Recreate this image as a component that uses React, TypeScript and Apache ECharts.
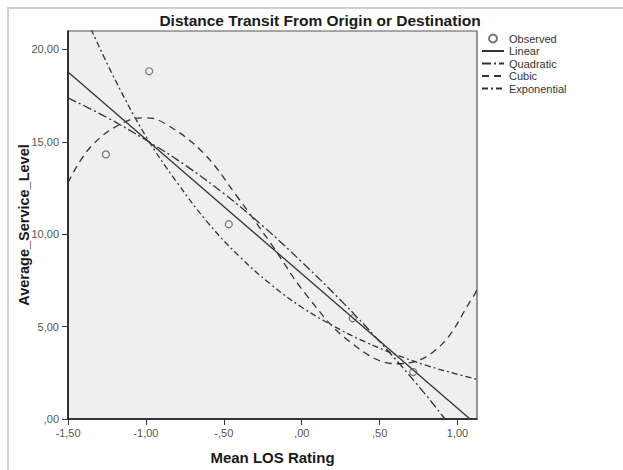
import React, { useEffect, useRef } from "react";
import * as echarts from "echarts";

const titleText = "Distance Transit From Origin or Destination";
const xAxisName = "Mean LOS Rating";
const yAxisName = "Average_Service_Level";

const xTickValues = [-1.5, -1, -0.5, 0, 0.5, 1];
const xTickLabels = ["-1,50", "-1,00", "-,50", ",00", ",50", "1,00"];
const yTickValues = [0, 5, 10, 15, 20];
const yTickLabels = [",00", "5,00", "10,00", "15,00", "20,00"];

const legendNames = ["Observed", "Linear", "Quadratic", "Cubic", "Exponential"];

const observedX = [-1.257, -0.979, -0.468, 0.328, 0.716];
const observedY = [14.32, 18.82, 10.54, 5.45, 2.54];

const linearX = [-1.5, 1.08];
const linearY = [18.78, 0];

const quadraticX = [-1.5, -1.25, -1.0, -0.75, -0.5, -0.25, 0, 0.25, 0.5, 0.75, 0.92];
const quadraticY = [17.38, 16.32, 15.1, 13.75, 12.2, 10.45, 8.5, 6.43, 4.19, 1.78, 0];

const cubicX = [-1.5, -1.35, -1.124, -0.996, -0.867, -0.632, -0.417, -0.2, 0.033, 0.312, 0.612, 0.869, 1.105, 1.125];
const cubicY = [12.79, 14.77, 16.12, 16.3, 15.94, 14.41, 12.07, 9.52, 6.68, 4.16, 2.99, 3.8, 6.68, 7.0];

const exponentialX = [-1.352, -1.2, -1.0, -0.8, -0.6, -0.4, -0.2, 0, 0.2, 0.4, 0.6, 0.8, 1.0, 1.125];
const exponentialY = [21.1, 18.4, 15.3, 12.8, 10.6, 8.8, 7.3, 6.05, 5.05, 4.2, 3.5, 2.9, 2.42, 2.15];

const pairs = (xs: number[], ys: number[]) => xs.map((x, i) => [x, ys[i]]);

const FONT = "'Liberation Sans', Arial, sans-serif";
const LINE_COLOR = "#333333";

export default function App() {
  const ref = useRef<HTMLDivElement>(null);

  useEffect(() => {
    if (!ref.current) return;
    const chart = echarts.init(ref.current, undefined, { renderer: "svg" });

    const lineSeries = (name: string, xs: number[], ys: number[], type: any, smooth: any) => ({
      name,
      type: "line",
      data: pairs(xs, ys),
      symbol: "none",
      smooth,
      clip: true,
      silent: true,
      lineStyle: { color: LINE_COLOR, width: 1.3, type },
      itemStyle: { color: LINE_COLOR },
      emphasis: { disabled: true },
      z: 3,
    });

    chart.setOption({
      animation: false,
      backgroundColor: "#ffffff",
      textStyle: { fontFamily: FONT },
      title: {
        text: titleText,
        left: 320,
        textAlign: "center",
        top: 12,
        padding: 0,
        textStyle: { fontFamily: FONT, fontWeight: "bold", fontSize: 15.5, color: "#1a1a1a" },
      },
      graphic: [
        {
          type: "rect",
          silent: true,
          z: -10,
          shape: { x: 8, y: 8, width: 700, height: 600 },
          style: { fill: "none", stroke: "#cfcfcf", lineWidth: 2 },
        },
      ],
      legend: {
        orient: "vertical",
        left: 481,
        top: 33,
        itemWidth: 22,
        itemHeight: 8,
        itemGap: 1.5,
        padding: 0,
        data: legendNames.map((n, i) =>
          i === 0 ? { name: n } : { name: n, itemStyle: { opacity: 0 } }
        ),
        textStyle: { fontFamily: FONT, fontSize: 11, color: "#333333" },
        selectedMode: false,
      },
      grid: {
        left: 68,
        top: 31,
        right: 146,
        bottom: 46,
        show: true,
        backgroundColor: "#efefef",
        borderColor: "#555555",
        borderWidth: 1.2,
      },
      xAxis: {
        type: "value",
        min: -1.5,
        max: 1.125,
        name: xAxisName,
        nameLocation: "middle",
        nameGap: 31,
        nameMoveOverlap: false,
        nameTextStyle: { fontFamily: FONT, fontWeight: "bold", fontSize: 15, color: "#1a1a1a" },
        axisLine: { show: true, onZero: false, lineStyle: { color: "#111111", width: 1.5 } },
        axisTick: { show: true, length: 6, customValues: xTickValues, lineStyle: { color: "#333333" } },
        axisLabel: {
          customValues: xTickValues,
          margin: 8,
          fontSize: 11,
          color: "#555555",
          fontFamily: FONT,
          formatter: (v: number) => {
            const i = xTickValues.findIndex((t) => Math.abs(t - v) < 1e-6);
            return i >= 0 ? xTickLabels[i] : "";
          },
        },
        splitLine: { show: false },
      },
      yAxis: {
        type: "value",
        min: 0,
        max: 21,
        name: yAxisName,
        nameLocation: "middle",
        nameGap: 37,
        nameMoveOverlap: false,
        nameTextStyle: { fontFamily: FONT, fontWeight: "bold", fontSize: 14.5, color: "#1a1a1a" },
        axisLine: { show: true, onZero: false, lineStyle: { color: "#111111", width: 1.5 } },
        axisTick: { show: true, length: 6, customValues: yTickValues, lineStyle: { color: "#333333" } },
        axisLabel: {
          customValues: yTickValues,
          margin: 9,
          fontSize: 11,
          color: "#555555",
          fontFamily: FONT,
          formatter: (v: number) => {
            const i = yTickValues.findIndex((t) => Math.abs(t - v) < 1e-6);
            return i >= 0 ? yTickLabels[i] : "";
          },
        },
        splitLine: { show: false },
      },
      series: [
        {
          name: "Observed",
          type: "scatter",
          data: pairs(observedX, observedY),
          symbol: "circle",
          symbolSize: 7,
          silent: true,
          itemStyle: { color: "rgba(0,0,0,0)", borderColor: "#555555", borderWidth: 1.2 },
          emphasis: { disabled: true },
          z: 4,
        },
        lineSeries("Linear", linearX, linearY, "solid", false),
        lineSeries("Quadratic", quadraticX, quadraticY, [9, 3, 2, 3], 0.4),
        lineSeries("Cubic", cubicX, cubicY, [7, 5], 0.4),
        lineSeries("Exponential", exponentialX, exponentialY, [6, 3, 2, 3], 0.4),
      ],
    });

    return () => chart.dispose();
  }, []);

  return (
    <div
      ref={ref}
      style={{ position: "fixed", left: 0, top: 0, width: 623, height: 470, background: "#ffffff" }}
    />
  );
}
